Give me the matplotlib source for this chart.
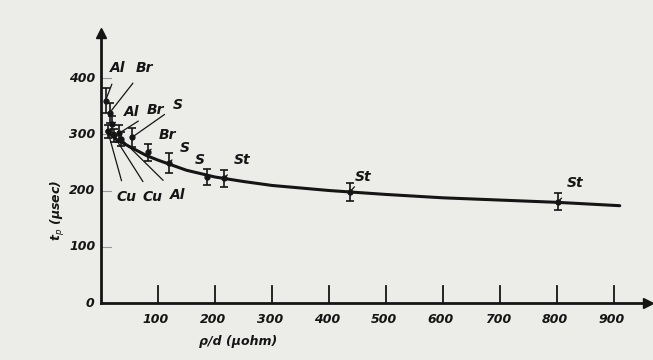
import matplotlib
matplotlib.use("Agg")
import matplotlib.pyplot as plt

# measured points: element, rho/d, t_p, error
elements = ["Al", "Br", "Al", "Br", "S", "Cu", "Cu", "Al", "Br", "S", "S", "St", "St", "St"]
rho_d = [8, 15, 20, 32, 55, 12, 22, 35, 82, 119, 186, 216, 437, 802]
t_p = [360, 338, 318, 302, 295, 305, 298, 292, 268, 249, 224, 222, 198, 180]
t_err = [22, 18, 15, 15, 17, 12, 12, 12, 15, 17, 15, 15, 16, 15]

# label positions (data coords) for each point
label_x = [30, 77, 54, 96, 135, 44, 91, 135, 116, 147, 174, 247, 460, 832]
label_y = [418, 418, 340, 343, 352, 188, 188, 192, 299, 276, 254, 254, 224, 213]

# fitted curve
curve_x = [10, 25, 50, 80, 100, 150, 200, 250, 300, 400, 500, 600, 700, 800, 910]
curve_y = [305, 292, 278, 262, 254, 236, 224, 216, 209, 200, 193, 187, 183, 179, 173]

x_ticks = [100, 200, 300, 400, 500, 600, 700, 800, 900]
y_ticks = [100, 200, 300, 400]

ink = "#151515"
bg = "#ecece9"
font = dict(family="DejaVu Sans", weight="bold", style="italic")

fig = plt.figure(figsize=(6.53, 3.6), dpi=100, facecolor=bg)
ax = fig.add_axes([0.1547, 0.1583, 0.838, 0.75])
ax.set_facecolor(bg)
ax.set_xlim(0, 960)
ax.set_ylim(0, 480)

for s in ["top", "right"]:
    ax.spines[s].set_visible(False)
for s in ["left", "bottom"]:
    ax.spines[s].set_color(ink)
    ax.spines[s].set_linewidth(2)
ax.plot(1, 0, ">", color=ink, ms=7, transform=ax.transAxes, clip_on=False)
ax.plot(0, 1, "^", color=ink, ms=7, transform=ax.transAxes, clip_on=False)

# hand drawn ticks
ax.set_xticks([])
ax.set_yticks([])
for t in x_ticks:
    ax.plot([t, t], [0, 30], color=ink, lw=1.3)
    ax.text(t - 4, -30, str(t), ha="center", va="center", fontsize=9, color=ink, clip_on=False, **font)
for t in y_ticks:
    ax.plot([0, 18], [t, t], color="#999999", lw=0.8)
    ax.text(-10, t, str(t), ha="right", va="center", fontsize=9, color=ink, **font)
ax.text(-12, 0, "0", ha="right", va="center", fontsize=9, color=ink, **font)

ax.plot(curve_x, curve_y, color=ink, lw=2.2, solid_capstyle="round")
ax.errorbar(rho_d, t_p, yerr=t_err, fmt="o", ms=3.5, color=ink, ecolor=ink,
            elinewidth=1.2, capsize=3, capthick=1.2)

for name, x, y, lx, ly in zip(elements, rho_d, t_p, label_x, label_y):
    ax.annotate(name, xy=(x, y), xytext=(lx, ly), ha="center", va="center",
                fontsize=10, color=ink, **font,
                arrowprops=dict(arrowstyle="-", color=ink, lw=0.9, shrinkA=5, shrinkB=0))

ax.text(240, -69, "ρ/d (μohm)", ha="center", va="center", fontsize=9, color=ink, **font)
ax.text(-75, 165, "t$_p$ (μsec)", ha="center", va="center", rotation=90,
        fontsize=9, color=ink, **font)

fig.savefig("out.png", dpi=100, facecolor=bg)
